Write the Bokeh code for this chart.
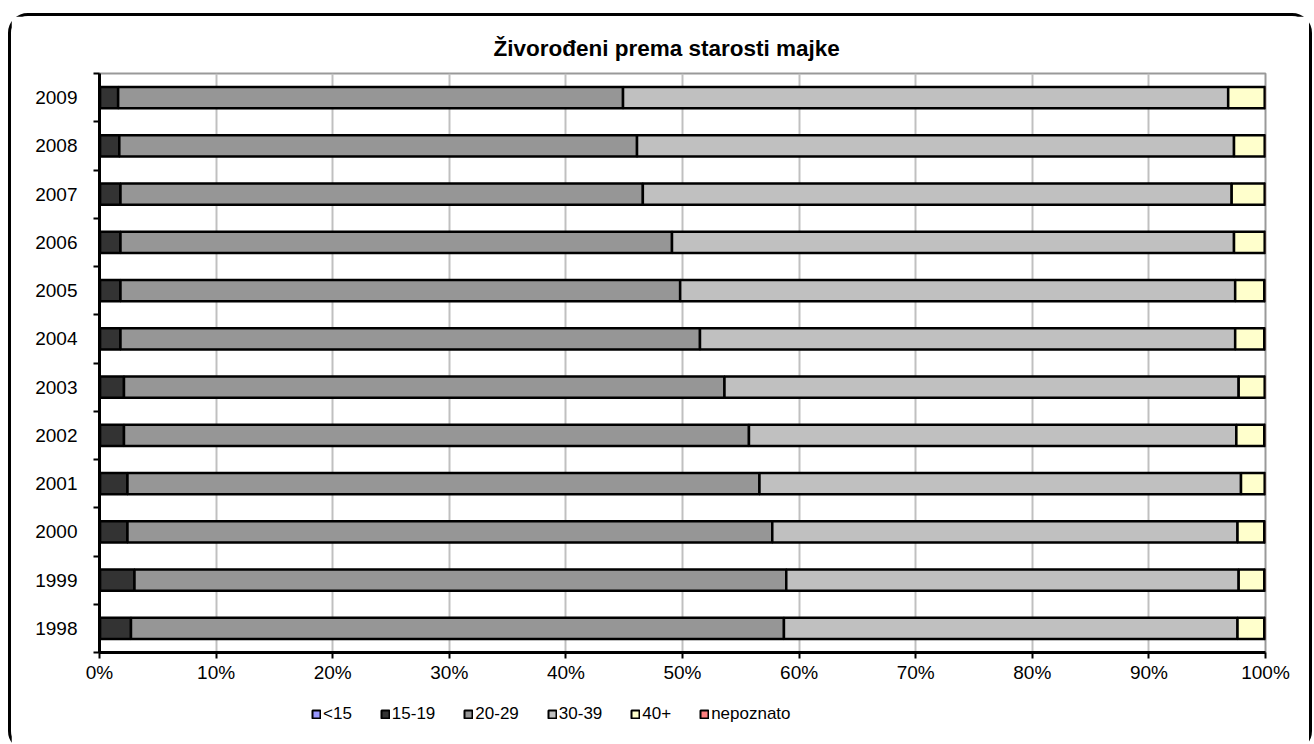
from bokeh.plotting import figure
from bokeh.layouts import column
from bokeh.models import ColumnDataSource, FixedTicker, PrintfTickFormatter, Range1d, Legend
from bokeh.embed import file_html
from bokeh.resources import INLINE

years = ['1998', '1999', '2000', '2001', '2002', '2003', '2004', '2005', '2006', '2007', '2008', '2009']
series = ['<15', '15-19', '20-29', '30-39', '40+', 'nepoznato']
lt15 = [0.05, 0.05, 0.05, 0.05, 0.05, 0.05, 0.05, 0.05, 0.05, 0.05, 0.05, 0.05]
a1519 = [2.65, 2.95, 2.35, 2.35, 2.05, 2.05, 1.75, 1.75, 1.75, 1.75, 1.65, 1.55]
a2029 = [56.0, 55.9, 55.3, 54.2, 53.6, 51.5, 49.7, 48.0, 47.3, 44.8, 44.4, 43.3]
a3039 = [38.9, 38.8, 39.9, 41.3, 41.8, 44.1, 45.9, 47.6, 48.2, 50.5, 51.2, 51.9]
a40 = [2.3, 2.2, 2.3, 2.05, 2.4, 2.25, 2.5, 2.5, 2.65, 2.85, 2.65, 3.15]
nep = [0.1, 0.1, 0.1, 0.05, 0.1, 0.05, 0.1, 0.1, 0.05, 0.05, 0.05, 0.05]
colors = ['#9999FF', '#333333', '#969696', '#C0C0C0', '#FFFFCC', '#FF8080']
xticks = [0, 10, 20, 30, 40, 50, 60, 70, 80, 90, 100]

ypos = list(range(len(years)))
source = ColumnDataSource(dict(y=ypos, s0=lt15, s1=a1519, s2=a2029, s3=a3039, s4=a40, s5=nep))
keys = ['s0', 's1', 's2', 's3', 's4', 's5']

FONT = "Liberation Sans"

p = figure(width=1298, height=679, output_backend="svg", toolbar_location=None,
           x_range=Range1d(0, 100), y_range=Range1d(-0.5, len(years) - 0.5),
           title="Živorođeni prema starosti majke")
p.min_border_left = 88
p.min_border_right = 44
p.min_border_top = 57
p.min_border_bottom = 43

p.title.align = "left"
p.title.offset = 394
p.title.text_font = FONT
p.title.text_font_size = "22.5px"
p.title.text_font_style = "bold"
p.title.text_color = "black"
p.title.standoff = 26

renderers = p.hbar_stack(keys, y='y', height=0.44, color=colors, source=source,
                         line_color='black', line_width=2.5)

p.outline_line_color = "#999999"
p.outline_line_width = 2
p.background_fill_color = "white"

p.ygrid.grid_line_color = None
p.xgrid.grid_line_color = "#C0C0C0"
p.xgrid.grid_line_width = 2
p.xgrid.ticker = FixedTicker(ticks=xticks)

p.xaxis.ticker = FixedTicker(ticks=xticks)
p.xaxis.formatter = PrintfTickFormatter(format="%d%%")
p.xaxis.axis_line_width = 3
p.xaxis.axis_line_color = "black"
p.xaxis.major_tick_out = 6
p.xaxis.major_tick_in = 0
p.xaxis.major_tick_line_width = 2
p.xaxis.minor_tick_line_color = None
p.xaxis.major_label_text_font = FONT
p.xaxis.major_label_text_font_size = "19px"
p.xaxis.major_label_text_color = "black"
p.xaxis.major_label_standoff = 3

bounds = [i - 0.5 for i in range(len(years) + 1)]
p.yaxis.ticker = FixedTicker(ticks=ypos, minor_ticks=bounds)
p.yaxis.major_label_overrides = {i: y for i, y in zip(ypos, years)}
p.yaxis.axis_line_width = 3
p.yaxis.major_tick_out = 0
p.yaxis.major_tick_in = 0
p.yaxis.major_tick_line_color = None
p.yaxis.minor_tick_out = 6
p.yaxis.minor_tick_in = 0
p.yaxis.minor_tick_line_width = 2
p.yaxis.minor_tick_line_color = "black"
p.yaxis.major_label_text_font = FONT
p.yaxis.major_label_text_font_size = "19px"
p.yaxis.major_label_text_color = "black"
p.yaxis.major_label_standoff = 16

# legend strip below the chart (bars of this strip lie outside its visible range)
p2 = figure(width=1298, height=53, output_backend="svg", toolbar_location=None,
            x_range=Range1d(1000, 1001), y_range=Range1d(1000, 1001), min_border=0)
p2.axis.visible = False
p2.grid.visible = False
p2.outline_line_color = None
swatches = p2.hbar_stack(keys, y='y', height=0.44, color=colors, source=source,
                         line_color='black', line_width=2)

legend = Legend(items=[(s, [r]) for s, r in zip(series, swatches)], orientation="horizontal",
                location=(212, 24))
legend.glyph_width = 10
legend.glyph_height = 10
legend.label_standoff = 2
legend.spacing = 28
legend.padding = 0
legend.margin = 0
legend.label_height = 20
legend.border_line_color = None
legend.background_fill_alpha = 0
legend.label_text_font = FONT
legend.label_text_font_size = "17px"
legend.label_text_color = "black"
p2.add_layout(legend, "center")

layout = column(p, p2, spacing=0,
                styles={"border": "3px solid black", "border-radius": "20px",
                        "margin-top": "13px", "margin-left": "8px", "background": "white"})

open("out.html", "w").write(file_html(layout, INLINE))
